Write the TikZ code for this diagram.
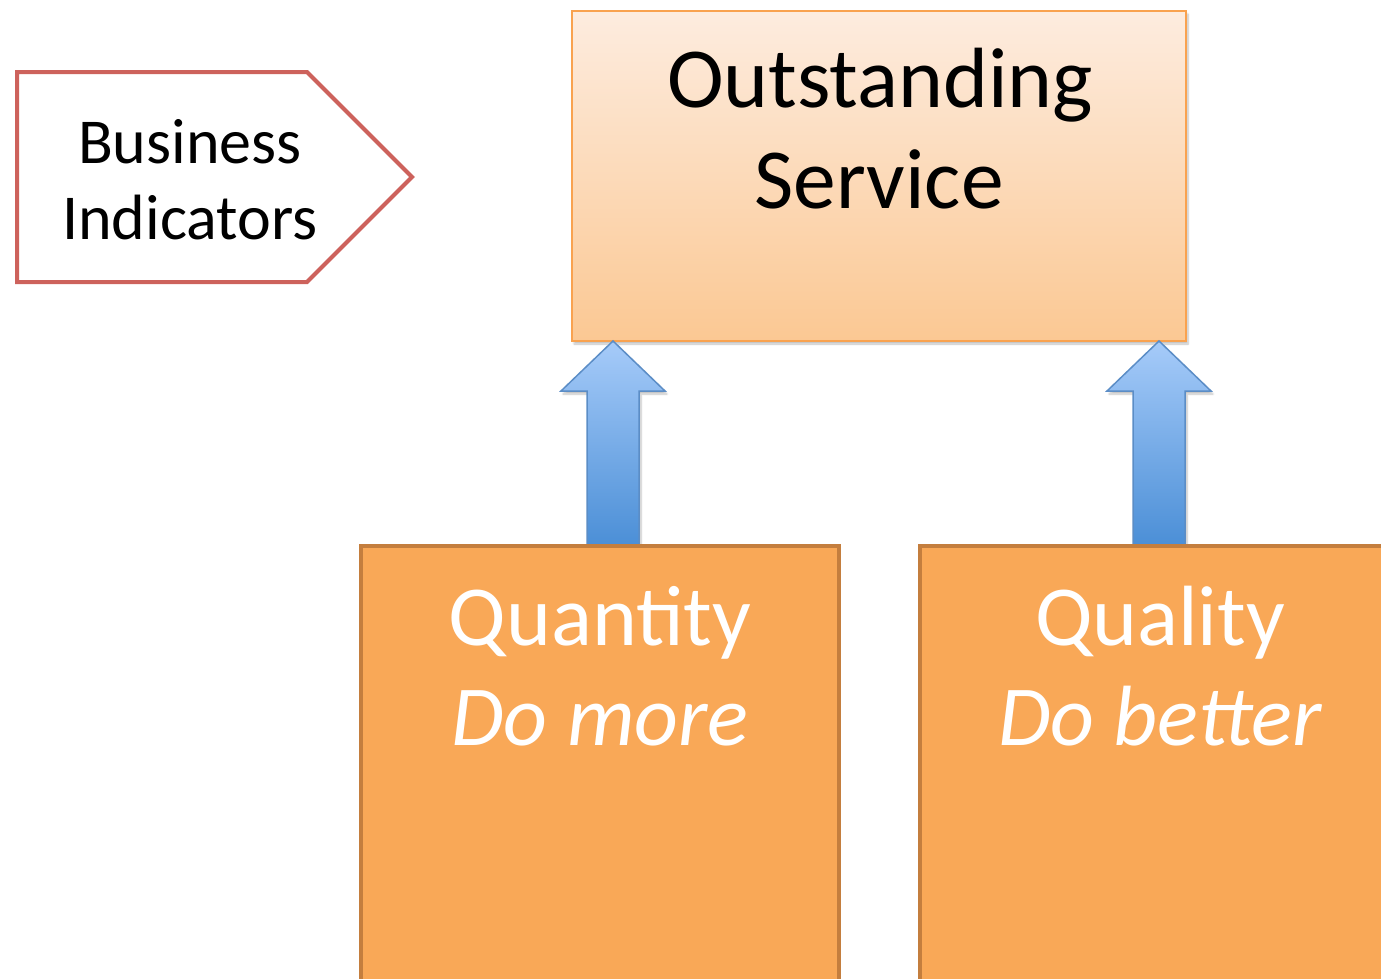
\documentclass[tikz,border=0pt]{standalone}
\usepackage{fontspec}
\setmainfont{Carlito}
\usetikzlibrary{shadows.blur}
\definecolor{tagred}{HTML}{CD625C}
\definecolor{peachtop}{HTML}{FDECDF}
\definecolor{peachbot}{HTML}{FBC893}
\definecolor{peachline}{HTML}{F9A24F}
\definecolor{blueTop}{HTML}{A6CBF9}
\definecolor{blueBot}{HTML}{4A8ED6}
\definecolor{blueLine}{HTML}{5B8DC6}
\definecolor{boxfill}{HTML}{F9A857}
\definecolor{boxline}{HTML}{C47E3E}
\tikzset{
  tagshape/.style={draw=tagred, line width=4pt, fill=white, line join=miter},
  goalbox/.style={draw=peachline, line width=2pt, top color=peachtop, bottom color=peachbot,
    blur shadow={shadow blur steps=6, shadow xshift=2pt, shadow yshift=-3pt, shadow opacity=25}},
  uparrow/.style={draw=blueLine, line width=1.5pt, top color=blueTop, bottom color=blueBot,
    blur shadow={shadow blur steps=6, shadow xshift=2pt, shadow yshift=-3pt, shadow opacity=25}},
  pillar/.style={draw=boxline, line width=3.5pt, fill=boxfill},
  bigtxt/.style={font=\fontsize{85.5}{101}\selectfont, anchor=base},
  smalltxt/.style={font=\fontsize{64}{76}\selectfont, anchor=base},
}
\begin{document}
\begin{tikzpicture}[x=1pt, y=-1pt]
\useasboundingbox (0,0) rectangle (1381,978);

% tag-shaped label
\draw[tagshape] (17,72) -- (307,72) -- (412,177) -- (307,282) -- (17,282) -- cycle;
\node[smalltxt] (bi1) at (190,163) {Business};
\node[smalltxt] (bi2) at (190,239) {Indicators};

% goal box
\path[goalbox] (572,11) rectangle (1186,341);
\node[bigtxt] (os1) at (880,107) {Outstanding};
\node[bigtxt] (os2) at (879,208) {Service};

% upward arrows
\path[uparrow] (613,341) -- (665,391) -- (639,391) -- (639,548) -- (587,548) -- (587,391) -- (561,391) -- cycle;
\path[uparrow] (1159,341) -- (1211,391) -- (1185,391) -- (1185,548) -- (1133,548) -- (1133,391) -- (1107,391) -- cycle;

% pillars
\path[pillar] (361,546) -- (361,990) -- (839,990) -- (839,546) -- cycle;
\path[pillar] (920,546) -- (920,990) -- (1400,990) -- (1400,546) -- cycle;
\node[bigtxt, text=white] (q1) at (600,645) {Quantity};
\node[bigtxt, text=white] (q2) at (600,745) {\itshape Do more};
\node[bigtxt, text=white] (r1) at (1160,645) {Quality};
\node[bigtxt, text=white] (r2) at (1160,745) {\itshape Do better};
\end{tikzpicture}
\end{document}
